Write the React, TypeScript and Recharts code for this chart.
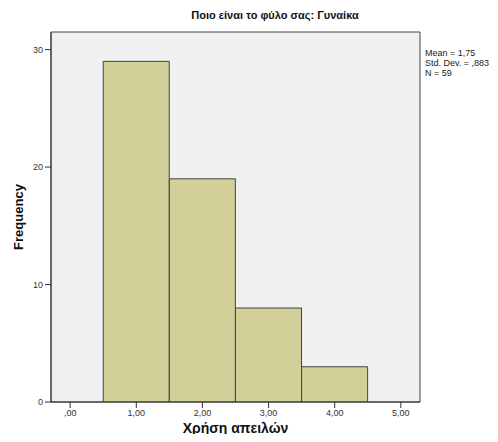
import React from 'react'
import { ComposedChart, Bar, XAxis, YAxis, CartesianGrid } from 'recharts'

const binCenters = [1, 2, 3, 4]
const frequencies = [29, 19, 8, 3]
const xTicks = [0, 1, 2, 3, 4, 5]
const yTicks = [0, 10, 20, 30]
const statLines = ['Mean = 1,75', 'Std. Dev. = ,883', 'N = 59']

const data = binCenters.map((x, i) => ({ x, freq: frequencies[i] }))

const font = '"Liberation Sans", Arial, sans-serif'

const fmtX = (v: number) => {
  const s = v.toFixed(2).replace('.', ',')
  return v === 0 ? s.slice(1) : s
}

// frame lines on the plot edges, taken from the chart offset
const hEdges = ({ offset }: any) => [offset.top, offset.top + offset.height]
const vEdges = ({ offset }: any) => [offset.left, offset.left + offset.width]

const App: React.FC = () => {
  return (
    <div style={{ margin: -8, position: 'relative', width: 498, height: 442, background: '#fff', fontFamily: font }}>
      <div style={{ position: 'absolute', left: 0, width: 550, top: 9, textAlign: 'center', fontSize: 11, fontWeight: 'bold', color: '#111' }}>
        Ποιο είναι το φύλο σας: Γυναίκα
      </div>
      <div style={{ position: 'absolute', left: 425, top: 48, fontSize: 9, lineHeight: '10px', color: '#222' }}>
        {statLines.map(l => <div key={l}>{l}</div>)}
      </div>
      <ComposedChart width={498} height={442} data={data} margin={{ top: 32, right: 78, left: 0, bottom: 0 }} barCategoryGap={0}>
        <CartesianGrid
          fill="#F0F0F0"
          stroke="#444"
          horizontalCoordinatesGenerator={hEdges}
          verticalCoordinatesGenerator={vEdges}
        />
        <XAxis
          dataKey="x"
          type="number"
          domain={[-0.29, 5.29]}
          ticks={xTicks}
          tickFormatter={fmtX}
          height={40}
          stroke="#333"
          tickSize={6}
          tick={{ fontSize: 9, fill: '#333', fontFamily: font }}
          allowDataOverflow
          label={{ value: 'Χρήση απειλών', position: 'insideBottom', offset: 9, style: { fontSize: 14, fontWeight: 'bold', fill: '#111', fontFamily: font } }}
        />
        <YAxis
          type="number"
          domain={[0, 31.5]}
          ticks={yTicks}
          width={51}
          stroke="#333"
          tickSize={6}
          tick={{ fontSize: 9, fill: '#333', fontFamily: font }}
          allowDataOverflow
          label={{ value: 'Frequency', angle: -90, position: 'insideLeft', offset: 18, style: { fontSize: 13, fontWeight: 'bold', fill: '#111', fontFamily: font, textAnchor: 'middle' } }}
        />
        <Bar dataKey="freq" fill="#D3CF99" stroke="#444" strokeWidth={1} isAnimationActive={false} />
      </ComposedChart>
    </div>
  )
}

export default App
